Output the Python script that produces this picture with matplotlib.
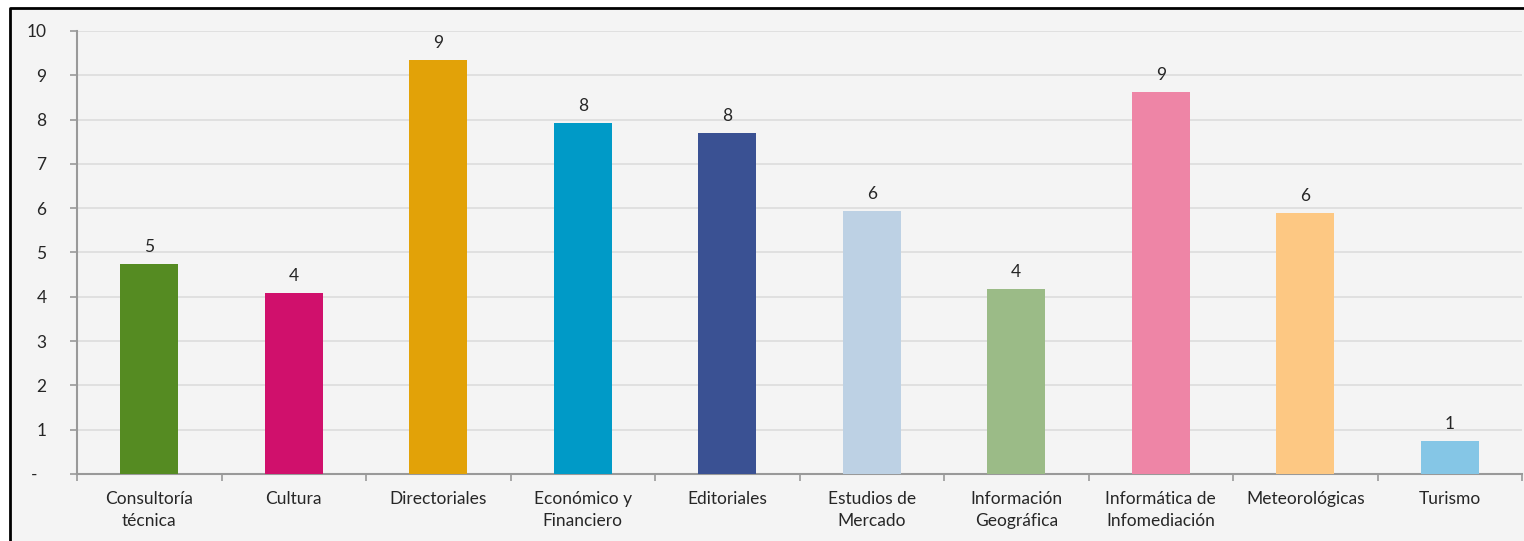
""" Bar chart of counts per sector, Excel-like styling. """

import numpy as np
import matplotlib
matplotlib.use("Agg")
import matplotlib.pyplot as plt
from matplotlib.patches import Rectangle
from matplotlib.lines import Line2D


categories = ["Consultoría\ntécnica", "Cultura", "Directoriales", "Económico y\nFinanciero",
    "Editoriales", "Estudios de\nMercado", "Información\nGeográfica", "Informática de\nInfomediación",
    "Meteorológicas", "Turismo"]

values = [4.74, 4.09, 9.35, 7.92, 7.70, 5.94, 4.18, 8.62, 5.89, 0.75]

bar_colors = ["#558B22", "#D0106C", "#E2A208", "#009AC7", "#3A5193",
    "#BDD1E4", "#9BBB87", "#EE85A6", "#FDC883", "#85C6E6"]

y_ticks = [0, 1, 2, 3, 4, 5, 6, 7, 8, 9, 10]
y_tick_labels = ["-  ", "1", "2", "3", "4", "5", "6", "7", "8", "9", "10"]


plt.rcParams['font.family'] = ['Lato', 'DejaVu Sans']

W, H = 1524, 541
fig = plt.figure(figsize=(W/100, H/100), dpi=100, facecolor='white')

# Chart area background and frame (cropped on the right and at the bottom)
fx0 = 10/W
fy1 = 1 - 8/H
fig.patches.append(Rectangle((fx0, -0.1), 1.2, fy1 + 0.1, transform=fig.transFigure,
    facecolor='#F4F4F4', edgecolor='none', zorder=-10))
fig.lines.append(Line2D([fx0, fx0, 1.1], [-0.1, fy1, fy1], transform=fig.transFigure,
    color='black', linewidth=2, zorder=-5))

ax = fig.add_axes([77/W, 1 - 474/H, (1522 - 77)/W, (474 - 31)/H])
ax.set_facecolor('none')

x = np.arange(len(categories))
bars = ax.bar(x, values, width=0.4, color=bar_colors, zorder=3)

# Value labels
for xi, v in zip(x, values):
    ax.text(xi, v + 0.2, "{:.0f}".format(v), ha='center', va='bottom', fontsize=12.5, color='#262626')

ax.set_xlim(-0.5, len(categories) - 0.5)
ax.set_ylim(0, 10)

ax.set_yticks(y_ticks)
ax.set_yticklabels(y_tick_labels)
ax.yaxis.grid(True, color='#DDDDDD', linewidth=1.2, zorder=0)
ax.set_axisbelow(True)

# Category labels on the major positions, boundary ticks on minor positions
ax.set_xticks(x)
ax.set_xticklabels(categories, fontsize=12.5, color='#262626', linespacing=1.45)
ax.set_xticks(np.arange(-0.5, len(categories)), minor=True)
ax.tick_params(axis='x', which='major', length=0, pad=12)
ax.tick_params(axis='x', which='minor', length=5, width=1.2, color='#999999', direction='out')
ax.tick_params(axis='y', length=5, width=1.2, color='#999999', direction='out', pad=17,
    labelsize=12.5, labelcolor='#262626')

for side in ['top', 'right']:
    ax.spines[side].set_visible(False)
for side in ['left', 'bottom']:
    ax.spines[side].set_color('#999999')
    ax.spines[side].set_linewidth(1.5)

plt.savefig("out.png", dpi=100, facecolor=fig.get_facecolor())
